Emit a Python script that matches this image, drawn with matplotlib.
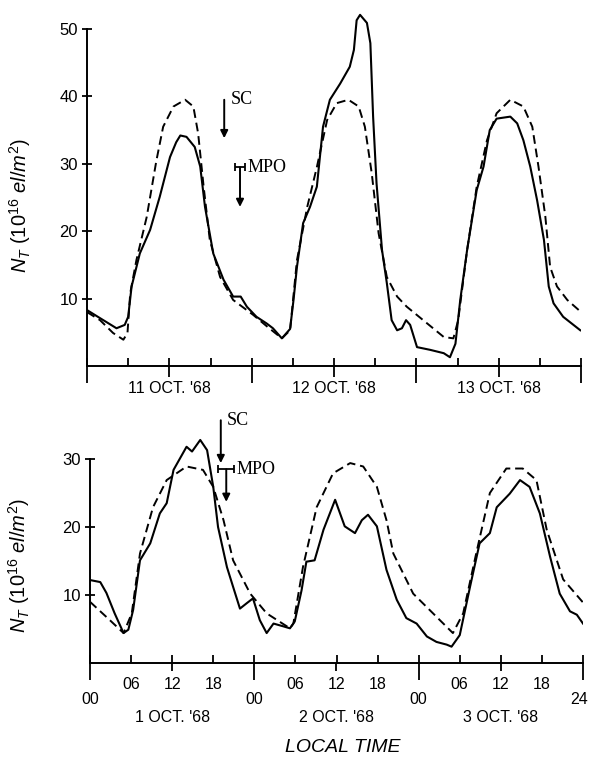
import numpy as np
import matplotlib
matplotlib.use("Agg")
import matplotlib.pyplot as plt
from matplotlib.transforms import offset_copy

plt.rcParams['font.family'] = ['Liberation Sans', 'DejaVu Sans']
plt.rcParams['mathtext.fontset'] = 'custom'
plt.rcParams['mathtext.it'] = 'Liberation Sans:italic'
plt.rcParams['mathtext.rm'] = 'Liberation Sans'
plt.rcParams['mathtext.default'] = 'it'

# ---- Messwerte 11.-13. Okt. 1968 (Stunden ab 00 LT, N_T in 10^16 el/m^2)
t_obs_a = [0, 1.9, 4.3, 5.5, 6.0, 6.5, 7.7, 9.2, 10.6, 12.1, 13.0, 13.6, 14.5, 15.7, 16.5, 17.2,
           18.4, 19.9, 21.3, 22.4, 23.3, 24.7, 26.2, 27.1, 28.4, 29.6, 30.1, 30.6, 31.5,
           32.5, 33.5, 34.4, 35.4, 36.9, 38.3, 38.9, 39.3, 39.8, 40.8, 41.3, 41.7, 42.2,
           43.0, 43.7, 44.4, 45.2, 45.9, 46.5, 47.1, 48.1, 50.0, 52.0, 52.9, 53.7, 54.4,
           55.4, 56.8, 57.8, 58.7, 59.7, 61.7, 62.7, 63.6, 64.6, 65.6, 66.6, 67.3, 68.0,
           69.4, 71.9]
n_obs_a = [8.3, 7.1, 5.6, 6.1, 7.3, 11.8, 16.7, 20.2, 25.1, 31.0, 33.2, 34.2, 34.0, 32.5, 29.6, 23.6,
           16.7, 12.8, 10.3, 10.3, 8.8, 7.3, 6.3, 5.6, 4.1, 5.5, 9.8, 14.7, 21.2,
           23.6, 26.6, 35.5, 39.5, 41.9, 44.4, 46.9, 51.3, 52.1, 50.9, 47.9, 37.0, 27.1,
           17.2, 12.3, 6.8, 5.3, 5.6, 6.8, 6.1, 2.8, 2.4, 1.9, 1.3, 3.3, 9.8,
           17.2, 26.1, 29.6, 35.0, 36.7, 37.0, 36.0, 33.5, 29.6, 24.6, 18.7, 11.8, 9.3,
           7.3, 5.3]
t_mod_a = [0, 1.9, 3.8, 5.3, 5.9, 6.3, 7.2, 8.7, 10.1, 11.1, 12.6, 14.3, 15.5, 16.2, 17.0,
           17.9, 19.4, 21.3, 24.2, 26.2, 28.4, 29.6, 30.6, 32.1, 33.5, 35.0, 36.4, 38.1,
           39.6, 40.5, 41.5, 42.5, 43.7, 45.2, 46.6, 49.0, 52.0, 53.4, 54.1, 55.4, 56.8,
           58.3, 59.7, 61.7, 63.6, 64.9, 65.8, 66.8, 67.5, 68.5, 70.0, 71.9]
n_mod_a = [8.0, 6.8, 4.9, 3.9, 4.9, 10.8, 15.7, 22.1, 30.4, 35.5, 38.5, 39.5, 38.5, 34.5, 26.6,
           18.7, 13.2, 9.8, 7.6, 5.9, 4.1, 5.3, 15.7, 23.6, 29.5, 36.5, 39.0, 39.5,
           38.5, 35.5, 28.6, 19.7, 13.2, 10.3, 8.8, 6.8, 4.3, 4.1, 6.8, 17.2, 26.6,
           33.5, 37.5, 39.5, 38.5, 35.5, 29.6, 22.2, 14.7, 11.8, 9.8, 8.1]

# ---- Messwerte 1.-3. Okt. 1968
t_obs_b = [0, 1.5, 2.4, 3.6, 4.9, 5.6, 6.3, 7.3, 8.8, 10.2, 11.2, 12.2, 14.1, 14.9, 16.1,
           17.1, 18.0, 18.7, 20.0, 20.9, 21.9, 22.9, 23.8, 24.8, 25.8, 26.8, 28.2, 29.2,
           29.9, 30.9, 31.6, 32.8, 34.1, 35.8, 37.2, 38.7, 39.7, 40.6, 41.9, 43.3, 44.8,
           46.2, 47.7, 49.2, 50.6, 52.1, 52.8, 54.0, 55.5, 56.9, 58.4, 59.4, 61.3, 62.8,
           64.2, 65.7, 67.2, 68.6, 70.1, 71.1, 72.0]
n_obs_b = [12.2, 11.9, 10.3, 7.3, 4.4, 4.9, 7.8, 15.1, 17.6, 22.0, 23.5, 28.4, 31.8, 31.1, 32.8,
           31.3, 25.9, 20.0, 14.1, 11.2, 8.0, 8.8, 9.5, 6.3, 4.4, 5.8, 5.4, 5.1,
           6.1, 10.7, 14.9, 15.1, 19.6, 24.0, 20.1, 19.1, 21.0, 21.8, 20.1, 13.7, 9.3,
           6.6, 5.8, 3.9, 3.1, 2.7, 2.4, 4.1, 11.2, 17.6, 19.1, 22.9, 24.9, 26.9,
           25.9, 22.0, 15.6, 10.2, 7.6, 7.1, 5.8]
t_mod_b = [0, 2.9, 4.9, 6.1, 7.3, 9.2, 11.2, 14.1, 16.5, 18.0, 19.5, 20.9, 23.4, 25.8, 29.2,
           29.7, 31.1, 33.1, 35.5, 38.0, 39.9, 41.9, 43.3, 44.3, 47.2, 50.1, 53.0, 54.5,
           56.4, 58.4, 60.8, 63.2, 65.2, 66.7, 69.1, 72.0]
n_mod_b = [9.0, 6.3, 4.4, 7.3, 16.1, 22.9, 26.9, 28.9, 28.4, 25.9, 21.0, 15.1, 10.2, 7.3, 5.1,
           5.8, 14.1, 22.9, 27.9, 29.4, 28.9, 25.9, 21.0, 16.1, 10.2, 7.3, 4.4, 7.3,
           16.1, 25.0, 28.6, 28.6, 26.9, 19.6, 12.3, 8.9]

# SC / MPO Ereignisse: (Zeit, Start, Spitze[, halbe Breite])
sc_a = (20.0, 39.5, 33.8)
mpo_a = (22.3, 29.5, 23.6, 0.75)
sc_b = (19.1, 35.7, 29.4)
mpo_b = (19.9, 28.5, 23.7, 1.2)

days_a = ["11 OCT. '68", "12 OCT. '68", "13 OCT. '68"]
days_b = ["1 OCT. '68", "2 OCT. '68", "3 OCT. '68"]
ylab = r'$N_T$ $(10^{16}$ $el/m^2)$'

fig = plt.figure(figsize=(5.9, 7.58), dpi=100)
W, H = 590.0, 758.0
FS = 11.5


def panel(rect, ymax, ytop, t1, n1, t2, n2, sc, mpo, days, hour_labels, ylabpos):
    ax = fig.add_axes(rect)
    ax.plot(t1, n1, color='k', lw=1.5)
    ax.plot(t2, n2, color='k', lw=1.4, ls=(0, (4.5, 2.5)))
    ax.set_xlim(0, 72)
    ax.set_ylim(0, ymax)
    for s in ['top', 'right']:
        ax.spines[s].set_visible(False)
    ax.spines['left'].set_bounds(0, ytop)
    ax.spines['left'].set_linewidth(1.4)
    ax.spines['bottom'].set_linewidth(1.4)
    ax.set_yticks(np.arange(10, ytop + 1, 10))
    ax.tick_params(axis='y', direction='inout', length=7, width=1.3, labelsize=12, pad=3)

    ax.xaxis.remove_overlapping_locs = False
    ax.set_xticks(np.arange(0, 73, 6))
    ax.set_xticks([0, 24, 48, 72], minor=True)
    if hour_labels:
        ax.set_xticklabels(['' if h % 24 == 0 else '%02d' % (h % 24) for h in range(0, 73, 6)])
        ax.set_xticklabels(['00', '00', '00', ''], minor=True)
        # '24' am rechten Rand etwas nach links gerückt
        tr = offset_copy(ax.get_xaxis_transform(), fig=fig, x=-3, y=-21, units='points')
        ax.text(72, 0, '24', transform=tr, ha='center', va='top', fontsize=FS)
    else:
        ax.set_xticklabels([])
        ax.set_xticklabels([], minor=True)
    ax.tick_params(axis='x', which='major', direction='in', length=5.5, width=1.3,
                   labelsize=FS, pad=10)
    ax.tick_params(axis='x', which='minor', direction='out', length=12.5, width=1.3,
                   labelsize=FS, pad=8.5)

    sec = ax.secondary_xaxis('bottom')
    sec.spines['bottom'].set_visible(False)
    sec.set_xticks([12, 36, 60])
    sec.set_xticklabels(days)
    if hour_labels:
        sec.tick_params(direction='out', length=5.5, width=1.3, labelsize=FS, pad=28)
    else:
        sec.tick_params(direction='out', length=8, width=1.3, labelsize=FS, pad=2.5)

    # SC Pfeil
    ax.annotate('', xy=(sc[0], sc[2]), xytext=(sc[0], sc[1]),
                arrowprops=dict(arrowstyle='-|>', color='k', lw=1.4, mutation_scale=11,
                                shrinkA=0, shrinkB=0), annotation_clip=False)
    ax.text(sc[0] + 0.9, sc[1], 'SC', family='Liberation Serif', fontsize=13,
            va='center', ha='left', clip_on=False)
    # MPO
    ax.errorbar([mpo[0]], [mpo[1]], xerr=[mpo[3]], color='k', lw=1.3, capsize=3,
                capthick=1.3, clip_on=False)
    ax.annotate('', xy=(mpo[0], mpo[2]), xytext=(mpo[0], mpo[1]),
                arrowprops=dict(arrowstyle='-|>', color='k', lw=1.4, mutation_scale=11,
                                shrinkA=0, shrinkB=0), annotation_clip=False)
    ax.text(mpo[0] + mpo[3] + 0.3, mpo[1], 'MPO', family='Liberation Serif', fontsize=13,
            va='center', ha='left', clip_on=False)

    ax.set_ylabel(ylab, fontsize=14.5)
    ax.yaxis.set_label_coords(*ylabpos)
    return ax


# oberes Bild: 0 bei y=366 px, 50 bei 29 px
panel([87 / W, (H - 366) / H, 494 / W, 53 * 6.74 / H], 53, 50,
      t_obs_a, n_obs_a, t_mod_a, n_mod_a, sc_a, mpo_a, days_a, False, (-0.11, 0.45))
# unteres Bild: 0 bei y=663 px, 30 bei 459 px
panel([90 / W, (H - 663) / H, 493 / W, 36 * 6.8 / H], 36, 30,
      t_obs_b, n_obs_b, t_mod_b, n_mod_b, sc_b, mpo_b, days_b, True, (-0.118, 0.40))

fig.text(343 / W, 1 - 748 / H, 'LOCAL TIME', ha='center', va='center', fontsize=14,
         style='italic')

fig.savefig('out.png', dpi=100)
